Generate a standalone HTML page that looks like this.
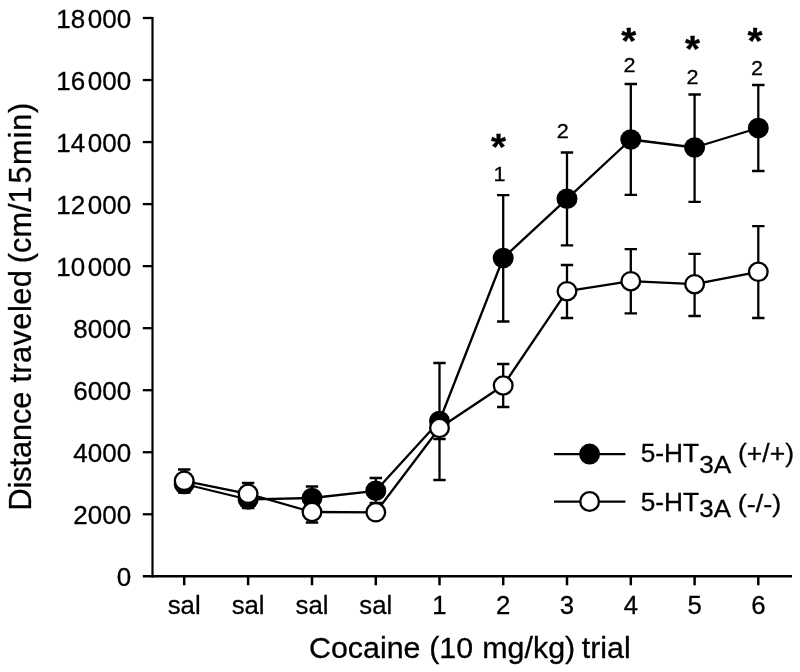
<!DOCTYPE html>
<html lang="en"><head><meta charset="utf-8"><title>Cocaine locomotor sensitization</title>
<style>html,body{margin:0;padding:0;background:#fff}body{width:800px;height:672px;overflow:hidden}svg{display:block;filter:blur(0.45px)}text{font-family:"Liberation Sans", Arial, Helvetica, sans-serif;fill:#000;stroke:#000;stroke-width:0.3px}</style>
</head><body>
<svg width="800" height="672" viewBox="0 0 800 672">
<rect width="800" height="672" fill="#fff"/>
<g stroke="#000" stroke-width="2.3" fill="none" stroke-linecap="butt">
<path d="M152.50 16.90V577.50" stroke-width="2.2"/>
<path d="M142.80 576.30H792" stroke-width="2.6"/>
<path d="M142.8 18.00H152.50"/>
<path d="M142.8 80.03H152.50"/>
<path d="M142.8 142.07H152.50"/>
<path d="M142.8 204.10H152.50"/>
<path d="M142.8 266.13H152.50"/>
<path d="M142.8 328.17H152.50"/>
<path d="M142.8 390.20H152.50"/>
<path d="M142.8 452.23H152.50"/>
<path d="M142.8 514.27H152.50"/>
<path d="M184.20 576.30V585.3" stroke-width="2.5"/>
<path d="M248.10 576.30V585.3" stroke-width="2.5"/>
<path d="M312.00 576.30V585.3" stroke-width="2.5"/>
<path d="M375.80 576.30V585.3" stroke-width="2.5"/>
<path d="M439.50 576.30V585.3" stroke-width="2.5"/>
<path d="M503.20 576.30V585.3" stroke-width="2.5"/>
<path d="M567.00 576.30V585.3" stroke-width="2.5"/>
<path d="M630.80 576.30V585.3" stroke-width="2.5"/>
<path d="M694.60 576.30V585.3" stroke-width="2.5"/>
<path d="M758.30 576.30V585.3" stroke-width="2.5"/>
</g>
<text transform="translate(131.20,27.90) scale(1.020,1)" font-size="25.50" text-anchor="end">18<tspan dx="2.6">000</tspan></text>
<text transform="translate(131.20,89.93) scale(1.020,1)" font-size="25.50" text-anchor="end">16<tspan dx="2.6">000</tspan></text>
<text transform="translate(131.20,151.97) scale(1.020,1)" font-size="25.50" text-anchor="end">14<tspan dx="2.6">000</tspan></text>
<text transform="translate(131.20,214.00) scale(1.020,1)" font-size="25.50" text-anchor="end">12<tspan dx="2.6">000</tspan></text>
<text transform="translate(131.20,276.03) scale(1.020,1)" font-size="25.50" text-anchor="end">10<tspan dx="2.6">000</tspan></text>
<text transform="translate(131.20,338.07) scale(1.020,1)" font-size="25.50" text-anchor="end">8000</text>
<text transform="translate(131.20,400.10) scale(1.020,1)" font-size="25.50" text-anchor="end">6000</text>
<text transform="translate(131.20,462.13) scale(1.020,1)" font-size="25.50" text-anchor="end">4000</text>
<text transform="translate(131.20,524.17) scale(1.020,1)" font-size="25.50" text-anchor="end">2000</text>
<text transform="translate(131.20,586.20) scale(1.020,1)" font-size="25.50" text-anchor="end">0</text>
<text transform="translate(184.20,613.50) scale(0.990,1)" font-size="26.00" text-anchor="middle">sal</text>
<text transform="translate(248.10,613.50) scale(0.990,1)" font-size="26.00" text-anchor="middle">sal</text>
<text transform="translate(312.00,613.50) scale(0.990,1)" font-size="26.00" text-anchor="middle">sal</text>
<text transform="translate(375.80,613.50) scale(0.990,1)" font-size="26.00" text-anchor="middle">sal</text>
<text transform="translate(439.50,613.50) scale(0.990,1)" font-size="26.00" text-anchor="middle">1</text>
<text transform="translate(503.20,613.50) scale(0.990,1)" font-size="26.00" text-anchor="middle">2</text>
<text transform="translate(567.00,613.50) scale(0.990,1)" font-size="26.00" text-anchor="middle">3</text>
<text transform="translate(630.80,613.50) scale(0.990,1)" font-size="26.00" text-anchor="middle">4</text>
<text transform="translate(694.60,613.50) scale(0.990,1)" font-size="26.00" text-anchor="middle">5</text>
<text transform="translate(758.30,613.50) scale(0.990,1)" font-size="26.00" text-anchor="middle">6</text>
<text font-size="30.4" y="657.7"><tspan x="309">Cocaine</tspan> <tspan x="429.2">(10</tspan> <tspan x="482.3">mg/kg)</tspan> <tspan x="581.7">trial</tspan></text>
<text transform="translate(30.6,0) rotate(-90)" font-size="30.7" y="0"><tspan x="-510.6" letter-spacing="-0.08">Distance</tspan> <tspan x="-382.6" letter-spacing="0.45">traveled</tspan> <tspan x="-263.2">(cm/1</tspan><tspan x="-183.6">5</tspan> <tspan x="-165" letter-spacing="0.88">min)</tspan></text>
<g stroke="#000" stroke-width="2.30" fill="none" stroke-linejoin="round">
<polyline points="184.20,484.00 248.10,499.50 312.00,498.00 375.80,490.80 439.50,421.00 503.20,258.00 567.00,198.80 630.80,139.50 694.60,147.50 758.30,128.00"/>
<polyline points="184.20,480.80 248.10,493.80 312.00,512.00 375.80,512.30 439.50,428.00 503.20,385.50 567.00,291.20 630.80,281.20 694.60,284.20 758.30,271.80"/>
</g>
<g stroke="#000" stroke-width="2.30" fill="none">
<path d="M184.20 475.00V492.50M178.00 475.00H190.40M178.00 492.50H190.40"/>
<path d="M248.10 491.00V508.00M241.90 491.00H254.30M241.90 508.00H254.30"/>
<path d="M312.00 486.50V509.00M305.80 486.50H318.20M305.80 509.00H318.20"/>
<path d="M375.80 478.00V503.00M369.60 478.00H382.00M369.60 503.00H382.00"/>
<path d="M439.50 363.00V480.00M433.30 363.00H445.70M433.30 480.00H445.70"/>
<path d="M503.20 195.20V321.50M497.00 195.20H509.40M497.00 321.50H509.40"/>
<path d="M567.00 152.50V245.30M560.80 152.50H573.20M560.80 245.30H573.20"/>
<path d="M630.80 84.00V194.80M624.60 84.00H637.00M624.60 194.80H637.00"/>
<path d="M694.60 94.50V201.80M688.40 94.50H700.80M688.40 201.80H700.80"/>
<path d="M758.30 85.00V171.00M752.10 85.00H764.50M752.10 171.00H764.50"/>
</g>
<g fill="#000" stroke="none">
<ellipse cx="184.20" cy="484.00" rx="10.50" ry="10.25"/>
<ellipse cx="248.10" cy="499.50" rx="10.50" ry="10.25"/>
<ellipse cx="312.00" cy="498.00" rx="10.50" ry="10.25"/>
<ellipse cx="375.80" cy="490.80" rx="10.50" ry="10.25"/>
<ellipse cx="439.50" cy="421.00" rx="10.50" ry="10.25"/>
<ellipse cx="503.20" cy="258.00" rx="10.50" ry="10.25"/>
<ellipse cx="567.00" cy="198.80" rx="10.50" ry="10.25"/>
<ellipse cx="630.80" cy="139.50" rx="10.50" ry="10.25"/>
<ellipse cx="694.60" cy="147.50" rx="10.50" ry="10.25"/>
<ellipse cx="758.30" cy="128.00" rx="10.50" ry="10.25"/>
</g>
<g stroke="#000" stroke-width="2.30" fill="none">
<path d="M184.20 469.50V492.00M178.00 469.50H190.40M178.00 492.00H190.40"/>
<path d="M248.10 483.00V504.50M241.90 483.00H254.30M241.90 504.50H254.30"/>
<path d="M312.00 501.50V522.50M305.80 501.50H318.20M305.80 522.50H318.20"/>
<path d="M375.80 507.00V517.50M369.60 507.00H382.00M369.60 517.50H382.00"/>
<path d="M439.50 417.00V439.00M433.30 417.00H445.70M433.30 439.00H445.70"/>
<path d="M503.20 364.00V407.00M497.00 364.00H509.40M497.00 407.00H509.40"/>
<path d="M567.00 265.00V318.00M560.80 265.00H573.20M560.80 318.00H573.20"/>
<path d="M630.80 249.20V313.40M624.60 249.20H637.00M624.60 313.40H637.00"/>
<path d="M694.60 253.80V316.00M688.40 253.80H700.80M688.40 316.00H700.80"/>
<path d="M758.30 226.20V318.00M752.10 226.20H764.50M752.10 318.00H764.50"/>
</g>
<g fill="#fff" stroke="#000" stroke-width="2.30">
<ellipse cx="184.20" cy="480.80" rx="9.35" ry="9.10"/>
<ellipse cx="248.10" cy="493.80" rx="9.35" ry="9.10"/>
<ellipse cx="312.00" cy="512.00" rx="9.35" ry="9.10"/>
<ellipse cx="375.80" cy="512.30" rx="9.35" ry="9.10"/>
<ellipse cx="439.50" cy="428.00" rx="9.35" ry="9.10"/>
<ellipse cx="503.20" cy="385.50" rx="9.35" ry="9.10"/>
<ellipse cx="567.00" cy="291.20" rx="9.35" ry="9.10"/>
<ellipse cx="630.80" cy="281.20" rx="9.35" ry="9.10"/>
<ellipse cx="694.60" cy="284.20" rx="9.35" ry="9.10"/>
<ellipse cx="758.30" cy="271.80" rx="9.35" ry="9.10"/>
</g>
<text transform="translate(499.50,181.00) scale(1.070,1)" font-size="20.20" text-anchor="middle">1</text>
<text transform="translate(562.80,138.00) scale(1.070,1)" font-size="20.20" text-anchor="middle">2</text>
<text transform="translate(629.50,72.00) scale(1.070,1)" font-size="20.20" text-anchor="middle">2</text>
<text transform="translate(692.50,84.00) scale(1.070,1)" font-size="20.20" text-anchor="middle">2</text>
<text transform="translate(757.00,74.50) scale(1.070,1)" font-size="20.20" text-anchor="middle">2</text>
<text transform="translate(498.40,160.00) scale(1.070,1)" font-size="36.00" text-anchor="middle" font-weight="bold">*</text>
<text transform="translate(628.80,53.70) scale(1.070,1)" font-size="36.00" text-anchor="middle" font-weight="bold">*</text>
<text transform="translate(692.50,61.70) scale(1.070,1)" font-size="36.00" text-anchor="middle" font-weight="bold">*</text>
<text transform="translate(755.00,53.70) scale(1.070,1)" font-size="36.00" text-anchor="middle" font-weight="bold">*</text>
<g stroke="#000" stroke-width="2.30">
<path d="M554 454.2H625.4"/>
<path d="M554 501.6H625.4"/>
<ellipse cx="589.6" cy="454.1" rx="10.50" ry="10.50" fill="#000" stroke="none"/>
<ellipse cx="589.6" cy="501.5" rx="9.35" ry="9.35" fill="#fff"/>
</g>
<text transform="translate(640.70,462.40) scale(1.012,1)" font-size="26.00" text-anchor="start">5-HT</text>
<text transform="translate(699.30,473.20) scale(1.070,1)" font-size="24.50" text-anchor="start">3A</text>
<text transform="translate(738.00,462.20) scale(1.040,1)" font-size="25.50" text-anchor="start">(+/+)</text>
<text transform="translate(640.70,511.30) scale(1.012,1)" font-size="26.00" text-anchor="start">5-HT</text>
<text transform="translate(699.30,517.00) scale(1.110,1)" font-size="23.30" text-anchor="start">3A</text>
<text transform="translate(737.80,511.80) scale(1.105,1)" font-size="24.50" text-anchor="start">(-/-)</text>
</svg>
</body></html>
